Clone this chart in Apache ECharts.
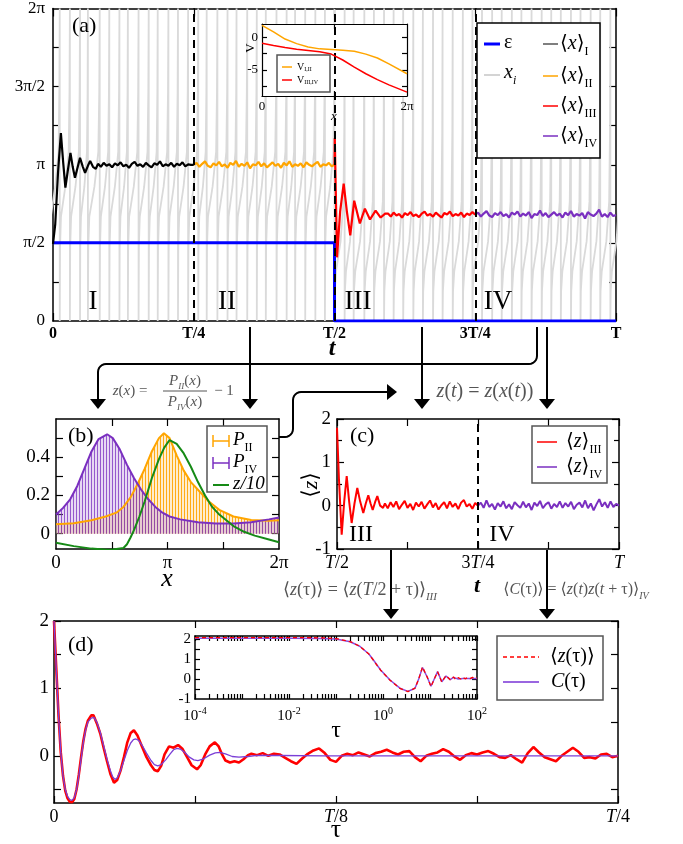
<!DOCTYPE html>
<html>
<head>
<meta charset="utf-8">
<title>panels a-d</title>
<style>html,body{margin:0;padding:0;background:#fff;} #main{width:683px;height:844px;}</style>
</head>
<body>
<div id="main"></div>
<script src="https://cdn.jsdelivr.net/npm/echarts@6/dist/echarts.min.js"></script>
<script>
var PI = Math.PI;

// ---- panel (a): trajectories, time in units of T ----
var wrapTimes = [-0.006, 0.012, 0.030, 0.048, 0.062, 0.083, 0.100, 0.118, 0.133, 0.152, 0.170, 0.186, 0.205, 0.222, 0.240,
  0.258, 0.273, 0.292, 0.310, 0.326, 0.345, 0.362, 0.378, 0.397, 0.415, 0.430, 0.448, 0.466, 0.483, 0.500,
  0.518, 0.534, 0.553, 0.570, 0.588, 0.605, 0.622, 0.640, 0.657, 0.675, 0.692, 0.710, 0.728, 0.745,
  0.762, 0.780, 0.797, 0.815, 0.832, 0.850, 0.868, 0.885, 0.902, 0.920, 0.937, 0.955, 0.972, 0.990, 1.008];
// one revolution of x_i: [fraction of the period, x]
var cycleEarly = [[0, 0], [0.03, 1.5], [0.12, 2.1], [0.55, 2.7], [0.88, 3.4], [0.96, 4.6], [1, 6.283]];
var cycleLate = [[0, 0], [0.03, 0.6], [0.15, 1.0], [0.6, 1.6], [0.88, 2.4], [0.96, 3.8], [1, 6.283]];

var epsPts = [[0, 1.5708], [0.5, 1.5708], [0.5, 0], [1, 0]];
var xI_head = [[0, 1.55], [0.004, 1.95], [0.009, 3.0], [0.014, 3.78], [0.018, 3.2], [0.022, 2.68], [0.026, 3.0], [0.031, 3.38],
  [0.035, 3.1], [0.039, 2.88], [0.044, 3.1], [0.048, 3.28], [0.053, 3.1], [0.057, 2.98], [0.062, 3.12], [0.066, 3.22], [0.071, 3.1], [0.076, 3.06]];
var xI_tail = [3.16, 3.10, 3.18, 3.12, 3.15, 3.09, 3.17, 3.13, 3.19, 3.11, 3.14, 3.08, 3.16, 3.20, 3.12, 3.15, 3.10, 3.18, 3.13, 3.09,
  3.17, 3.14, 3.21, 3.11, 3.15, 3.12, 3.18, 3.10, 3.16, 3.13, 3.19, 3.11, 3.15, 3.14, 3.14];
var xII_vals = [3.14, 3.18, 3.10, 3.16, 3.21, 3.12, 3.09, 3.17, 3.13, 3.20, 3.11, 3.15, 3.08, 3.18, 3.14, 3.22, 3.10, 3.16, 3.12, 3.19,
  3.07, 3.15, 3.13, 3.20, 3.11, 3.17, 3.09, 3.14, 3.19, 3.12, 3.16, 3.08, 3.18, 3.13, 3.21, 3.10, 3.15, 3.12, 3.17, 3.09,
  3.19, 3.14, 3.11, 3.16, 3.20, 3.10, 3.15, 3.13, 3.18, 3.11, 3.14];
var xIII_head = [[0.5, 3.14], [0.5005, 3.68], [0.5045, 1.28], [0.51, 2.2], [0.5163, 2.76], [0.522, 2.2], [0.528, 1.72], [0.535, 2.42],
  [0.545, 1.96], [0.554, 2.26], [0.563, 2.04], [0.573, 2.22], [0.582, 2.08], [0.59, 2.16]];
var xIII_tail = [2.16, 2.10, 2.18, 2.12, 2.15, 2.08, 2.17, 2.13, 2.19, 2.11, 2.14, 2.09, 2.16, 2.20, 2.12, 2.15, 2.10, 2.18, 2.13, 2.08,
  2.17, 2.14, 2.20, 2.11, 2.15, 2.12, 2.18, 2.09, 2.16, 2.13, 2.19, 2.14];
var xIV_vals = [2.14, 2.18, 2.10, 2.16, 2.21, 2.12, 2.09, 2.17, 2.13, 2.19, 2.11, 2.15, 2.08, 2.18, 2.14, 2.20, 2.10, 2.16, 2.12, 2.19,
  2.07, 2.15, 2.13, 2.22, 2.11, 2.17, 2.09, 2.14, 2.19, 2.12, 2.16, 2.08, 2.18, 2.13, 2.21, 2.10, 2.15, 2.12, 2.17, 2.06,
  2.19, 2.14, 2.11, 2.16, 2.24, 2.10, 2.15, 2.09, 2.18, 2.11, 2.13];
var regionBounds = [0.25, 0.5, 0.75];

// inset of (a): potentials
var vX = [0, 0.5, 1, 1.5, 2, 2.5, 3, 3.5, 4, 4.5, 5, 5.5, 6.283];
var vI_II = [1.8, 0.8, -0.3, -1.0, -1.5, -1.8, -1.9, -2.0, -2.15, -2.6, -3.2, -4.1, -5.6];
var vIII_IV = [-0.95, -1.3, -1.6, -1.85, -2.05, -2.25, -2.6, -3.5, -4.6, -5.6, -6.5, -7.3, -8.4];

// ---- panel (b): distributions ----
var bX_II = [0, 0.5, 1.0, 1.4, 1.7, 1.9, 2.1, 2.3, 2.5, 2.7, 2.9, 3.04, 3.2, 3.4, 3.6, 3.8, 4.0, 4.3, 4.6, 5.0, 5.5, 6.0, 6.283];
var pII = [0.05, 0.055, 0.07, 0.09, 0.11, 0.14, 0.19, 0.26, 0.34, 0.43, 0.5, 0.525, 0.5, 0.41, 0.33, 0.27, 0.23, 0.17, 0.125, 0.09, 0.072, 0.068, 0.07];
var bX_IV = [0, 0.2, 0.4, 0.6, 0.8, 1.0, 1.2, 1.44, 1.6, 1.8, 2.0, 2.2, 2.4, 2.6, 2.8, 3.0, 3.2, 3.5, 4.0, 4.5, 5.0, 5.5, 6.0, 6.283];
var pIV = [0.10, 0.135, 0.18, 0.25, 0.34, 0.43, 0.495, 0.52, 0.5, 0.44, 0.36, 0.29, 0.23, 0.18, 0.14, 0.11, 0.09, 0.075, 0.06, 0.054, 0.053, 0.06, 0.075, 0.085];
var bX_z = [0, 0.5, 1.0, 1.5, 1.9, 2.0, 2.1, 2.2, 2.35, 2.5, 2.7, 2.9, 3.05, 3.2, 3.4, 3.6, 3.8, 4.0, 4.2, 4.4, 4.6, 4.8, 5.0, 5.3, 5.6, 6.0, 6.283];
var zOver10 = [-0.047, -0.065, -0.078, -0.085, -0.075, -0.055, -0.02, 0.02, 0.09, 0.17, 0.29, 0.39, 0.45, 0.49, 0.47, 0.42, 0.35, 0.27, 0.2, 0.14, 0.1, 0.07, 0.04, 0.01, -0.01, -0.03, -0.045];

// ---- panel (c): z(t) ----
var zIII_head = [[0.5, 1.8], [0.5035, 0.6], [0.5083, -0.67], [0.5128, 0.1], [0.5172, 0.68], [0.5215, 0.1], [0.526, -0.4], [0.531, 0.05],
  [0.536, 0.41], [0.541, 0.1], [0.5466, -0.17], [0.551, 0.05], [0.5555, 0.24], [0.5595, 0.05], [0.5633, -0.1], [0.5675, 0.08],
  [0.5715, 0.22], [0.5765, 0.0], [0.5816, -0.05]];
var zIII_tail = [0.05, -0.06, 0.08, -0.03, 0.10, -0.08, 0.02, 0.11, -0.05, 0.04, -0.10, 0.07, -0.02, 0.09, -0.07, 0.03, 0.12, -0.04, 0.06, -0.09,
  0.01, 0.08, -0.06, 0.10, -0.03, 0.05, -0.08, 0.07, 0.13, -0.02, 0.04, -0.07, 0.06, 0.0];
var zIV_vals = [0.0, 0.07, -0.05, 0.12, -0.03, 0.04, -0.09, 0.06, -0.02, 0.10, -0.06, 0.03, -0.08, 0.08, 0.01, -0.05, 0.09, -0.04, 0.05, -0.10,
  0.07, -0.01, 0.11, -0.06, 0.03, 0.08, -0.07, 0.04, -0.03, 0.10, -0.05, 0.06, -0.02, 0.09, -0.08, 0.02, 0.07, -0.04, 0.12, -0.06,
  0.05, -0.11, 0.03, 0.15, -0.02, 0.08, -0.05, 0.10, -0.03, 0.04, 0.0];

// ---- panel (d): <z(tau)> and C(tau), tau in units of T ----
var zTau_head = [[0, 2], [0.001, 1.3], [0.002, 0.6], [0.003, 0.05], [0.004, -0.3], [0.005, -0.52], [0.006, -0.63], [0.007, -0.68], [0.008, -0.69],
  [0.009, -0.64], [0.010, -0.5], [0.011, -0.28], [0.012, -0.02], [0.013, 0.22], [0.014, 0.4], [0.015, 0.52], [0.0165, 0.6], [0.0175, 0.6],
  [0.019, 0.48], [0.0205, 0.33], [0.022, 0.12], [0.0235, -0.08], [0.025, -0.27], [0.0266, -0.4], [0.028, -0.36], [0.0295, -0.22], [0.031, -0.02],
  [0.0325, 0.2], [0.034, 0.34], [0.0354, 0.38], [0.037, 0.3], [0.039, 0.14], [0.041, -0.02], [0.043, -0.14], [0.0445, -0.21], [0.046, -0.23],
  [0.0475, -0.15], [0.049, 0.02], [0.051, 0.14], [0.053, 0.12], [0.055, 0.16], [0.057, 0.1], [0.059, -0.02], [0.061, -0.14], [0.0634, -0.2],
  [0.065, -0.14], [0.067, 0.02], [0.069, 0.14], [0.0713, 0.2], [0.073, 0.14], [0.0745, 0.02], [0.076, -0.07], [0.078, -0.1], [0.08, -0.08],
  [0.082, -0.1], [0.084, -0.05], [0.086, 0.01]];
var zTau_tail = [0.03, 0.01, 0.04, 0.0, 0.03, 0.02, -0.03, -0.08, -0.12, -0.04, 0.03, 0.08, 0.11, 0.04, -0.06, -0.09, 0.0, 0.03, 0.01, 0.05,
  0.02, -0.01, 0.04, 0.06, 0.09, 0.05, 0.02, 0.06, 0.07, -0.02, -0.08, 0.0, 0.03, 0.05, 0.1, 0.06, -0.01, -0.06, 0.01, 0.04,
  0.02, 0.05, 0.07, 0.03, -0.02, -0.03, 0.01, -0.05, -0.1, 0.04, 0.13, 0.05, -0.02, -0.05, -0.08, 0.0, 0.06, 0.12, 0.06, -0.03,
  -0.02, -0.04, 0.02, 0.03, -0.02, 0.0];
var cTau = [[0, 2], [0.001, 1.3], [0.002, 0.6], [0.003, 0.05], [0.004, -0.3], [0.005, -0.5], [0.006, -0.6], [0.007, -0.65], [0.008, -0.66],
  [0.009, -0.62], [0.010, -0.5], [0.011, -0.3], [0.012, -0.05], [0.013, 0.2], [0.014, 0.38], [0.015, 0.5], [0.0165, 0.56], [0.0177, 0.57],
  [0.019, 0.5], [0.0205, 0.35], [0.022, 0.15], [0.0235, -0.05], [0.025, -0.22], [0.026, -0.31], [0.027, -0.35], [0.028, -0.33], [0.0295, -0.22],
  [0.031, -0.07], [0.0325, 0.08], [0.034, 0.19], [0.0352, 0.24], [0.0363, 0.25], [0.0375, 0.23], [0.039, 0.16], [0.041, 0.04], [0.043, -0.07],
  [0.0445, -0.13], [0.046, -0.15], [0.0475, -0.13], [0.0495, -0.06], [0.0515, 0.03], [0.053, 0.09], [0.0545, 0.11], [0.056, 0.1], [0.058, 0.05],
  [0.06, -0.02], [0.062, -0.06], [0.0638, -0.07], [0.066, -0.05], [0.069, 0.01], [0.0715, 0.045], [0.0735, 0.05], [0.076, 0.03], [0.079, -0.01],
  [0.082, -0.02], [0.086, -0.01], [0.09, 0.005], [0.1, 0.005], [0.12, 0.0], [0.15, 0.0], [0.2, 0.0], [0.25, 0.0]];

// inset of (d): log time axis
var tauC = [1e-4, 1e-3, 1e-2, 0.05, 0.1, 0.2, 0.32, 0.5, 0.62, 0.89, 1.41, 2.29, 3.39, 4.79, 5.75, 6.92, 8.71, 10.5, 12.6, 14.5,
  17.8, 21.9, 26.9, 31.6, 39.8, 50, 63, 80, 100];
var insetC = [2.04, 2.04, 2.04, 2.03, 2.0, 1.86, 1.64, 1.25, 0.96, 0.45, -0.05, -0.46, -0.62, -0.46, 0.0, 0.57, 0.1, -0.36, 0.05, 0.37,
  -0.14, 0.15, -0.03, 0.08, 0.0, 0.03, 0.02, 0.03, 0.03];
var tauZ = [1e-4, 1e-3, 1e-2, 0.05, 0.1, 0.2, 0.32, 0.5, 0.62, 0.89, 1.41, 2.29, 3.39, 4.79, 5.75, 6.92, 8.71, 10.5, 12.6, 14.5,
  17.8, 21.9, 26.9, 29, 31.6, 35, 39.8, 45, 50, 56, 63, 71, 80, 90, 100];
var insetZ = [2.07, 2.07, 2.07, 2.06, 2.02, 1.87, 1.64, 1.25, 0.95, 0.44, -0.06, -0.47, -0.63, -0.46, 0.0, 0.6, 0.1, -0.38, 0.05, 0.36,
  -0.15, 0.17, -0.04, 0.06, 0.1, -0.02, 0.07, 0.0, 0.08, 0.01, 0.07, 0.02, 0.08, 0.03, 0.05];

var noiseStep = 0.005;

// ---------------------------------------------------------------
var SERIF = '"Liberation Serif", "DejaVu Serif", serif';

function merge(a, b) {
  var out = {};
  [a, b].forEach(function (src) {
    if (!src) return;
    Object.keys(src).forEach(function (k) {
      var v = src[k];
      if (v && typeof v === 'object' && !Array.isArray(v) && out[k] && typeof out[k] === 'object' && !Array.isArray(out[k])) {
        out[k] = merge(out[k], v);
      } else {
        out[k] = v;
      }
    });
  });
  return out;
}
function seq(t0, dt, vals) { return vals.map(function (v, i) { return [t0 + i * dt, v]; }); }
function pairs(xs, ys) { return xs.map(function (x, i) { return [x, ys[i]]; }); }

var grayPts = [];
for (var k = 0; k + 1 < wrapTimes.length; k++) {
  var a0 = wrapTimes[k], a1 = wrapTimes[k + 1];
  var shape = a0 < 0.5 ? cycleEarly : cycleLate;
  shape.forEach(function (p) { grayPts.push([a0 + p[0] * (a1 - a0), p[1]]); });
}

function axisBase(grid, pos, z) {
  return {
    type: 'value', gridIndex: grid, position: pos, z: z || 0,
    axisLine: {show: true, onZero: false, lineStyle: {color: '#000', width: 1.5}},
    axisTick: {show: true, inside: true, length: 7, lineStyle: {color: '#000', width: 1.2}},
    minorTick: {lineStyle: {color: '#000', width: 1.2}},
    splitLine: {show: false},
    axisLabel: {show: true, color: '#000', fontFamily: SERIF, fontSize: 19, margin: 6}
  };
}
function pairX(grid, opts, z) {
  var m = merge(axisBase(grid, 'bottom', z), opts);
  return [m, merge(m, {position: 'top', axisLabel: {show: false}})];
}
function pairY(grid, opts, z) {
  var m = merge(axisBase(grid, 'left', z), opts);
  return [m, merge(m, {position: 'right', axisLabel: {show: false}})];
}

var italicRich = {i: {fontStyle: 'italic', fontFamily: SERIF, fontSize: 18, color: '#000'}};
var piMajor = [0, PI / 2, PI, 3 * PI / 2, 2 * PI];
function piHalf(v) { return ['0', 'π/2', 'π', '3π/2', '2π'][Math.round(v / (PI / 2))]; }
function piWhole(v) { return ['0', 'π', '2π'][Math.round(v / PI)]; }
var logTicks = [];
for (var e = -4; e < 2; e++) for (var m = 1; m < 10; m++) logTicks.push(m * Math.pow(10, e));
logTicks.push(100);

var xAxes = [].concat(
  pairX(0, {min: 0, max: 1, interval: 0.25, axisTick: {length: 8},
    axisLabel: {fontSize: 16, fontWeight: 'bold', margin: 5,
      formatter: function (v) { return {0: '0', 0.25: 'T/4', 0.5: 'T/2', 0.75: '3T/4', 1: 'T'}[v] || ''; }}}),
  pairX(1, {min: 0, max: 2 * PI, axisLine: {lineStyle: {width: 1.2}},
    axisTick: {customValues: [PI], length: 5},
    axisLabel: {customValues: [0, 2 * PI], formatter: piWhole, fontSize: 13, margin: 4}}, 6),
  pairX(2, {min: 0, max: 2 * PI, axisTick: {customValues: [PI / 2, PI, 3 * PI / 2]},
    axisLabel: {customValues: [0, PI, 2 * PI], formatter: piWhole, margin: 5}}),
  pairX(3, {min: 0.5, max: 1, interval: 0.25, minorTick: {show: true, splitNumber: 2, length: 7},
    axisLabel: {fontSize: 18, margin: 5, rich: italicRich,
      formatter: function (v) { return {0.5: '{i|T}/2', 0.75: '3{i|T}/4', 1: '{i|T}'}[v] || ''; }}}),
  pairX(4, {min: 0, max: 0.25, interval: 0.125, minorTick: {show: true, splitNumber: 2, length: 7},
    axisLabel: {fontSize: 18, margin: 5, rich: italicRich,
      formatter: function (v) { return {0: '0', 0.125: '{i|T}/8', 0.25: '{i|T}/4'}[v] || ''; }}}),
  pairX(5, {type: 'log', logBase: 10, min: 1e-4, max: 100, axisLine: {lineStyle: {width: 1.5}},
    axisTick: {customValues: logTicks, length: 5},
    axisLabel: {customValues: [1e-4, 1e-2, 1, 100], fontSize: 15, margin: 7,
      rich: {sup: {fontSize: 10, fontFamily: SERIF, verticalAlign: 'top', lineHeight: 10, color: '#000'},
             b: {fontSize: 15, fontFamily: SERIF, lineHeight: 20, color: '#000'}},
      formatter: function (v) { return '{b|10}{sup|' + Math.round(Math.log10(v)) + '}'; }}}, 6)
);
var yAxes = [].concat(
  pairY(0, {min: 0, max: 2 * PI,
    axisTick: {customValues: [PI / 4, PI / 2, 3 * PI / 4, PI, 5 * PI / 4, 3 * PI / 2, 7 * PI / 4]},
    axisLabel: {customValues: piMajor, formatter: piHalf, fontSize: 17, margin: 8}}),
  pairY(1, {min: -9, max: 2, axisLine: {lineStyle: {width: 1.2}},
    axisTick: {customValues: [-7.5, -5, -2.5, 0], length: 5},
    axisLabel: {customValues: [-5, 0], fontSize: 13, margin: 4}}, 6),
  pairY(2, {min: -0.08, max: 0.6, axisTick: {customValues: [0, 0.1, 0.2, 0.3, 0.4, 0.5]},
    axisLabel: {customValues: [0, 0.2, 0.4]}}),
  pairY(3, {min: -1, max: 2, interval: 1, minorTick: {show: true, splitNumber: 2, length: 5}}),
  pairY(4, {min: -0.7, max: 2, axisTick: {customValues: [-0.5, 0, 0.5, 1, 1.5, 2]},
    axisLabel: {customValues: [0, 1, 2], margin: 5}}),
  pairY(5, {min: -1, max: 2.15, axisLine: {lineStyle: {width: 1.5}},
    axisTick: {customValues: [-0.5, 0, 0.5, 1, 1.5, 2], length: 5},
    axisLabel: {customValues: [-1, 0, 1, 2], fontSize: 15, margin: 4}}, 6)
);

function line(grid, data, color, width, extra) {
  return merge({
    type: 'line', xAxisIndex: 2 * grid, yAxisIndex: 2 * grid, data: data,
    showSymbol: false, symbol: 'none', silent: true, animation: false, z: 3,
    lineStyle: {color: color, width: width}, itemStyle: {color: color}
  }, extra);
}
function stripe(lineColor, fillColor) {
  var c = document.createElement('canvas');
  c.width = 3; c.height = 6;
  var g = c.getContext('2d');
  g.fillStyle = fillColor; g.fillRect(0, 0, 3, 6);
  g.fillStyle = lineColor; g.fillRect(1, 0, 1, 6);
  return c;
}
function dashed(vals) {
  return {silent: true, symbol: ['none', 'none'], label: {show: false},
    lineStyle: {color: '#000', type: [8, 5], width: 2},
    data: vals.map(function (v) { return {xAxis: v}; })};
}

var ORANGE = '#ffa500', RED = '#ff0000', PURPLE = '#7a2fc0', GREEN = '#168a16', BLUE = '#0000ff';

var sII = line(2, pairs(bX_II, pII), ORANGE, 2);
sII.areaStyle = {color: {image: stripe('rgba(255,165,0,0.9)', 'rgba(255,210,130,0.4)'), repeat: 'repeat'}, opacity: 1};
var sIV = line(2, pairs(bX_IV, pIV), PURPLE, 2);
sIV.areaStyle = {color: {image: stripe('rgba(122,47,192,0.75)', 'rgba(175,130,215,0.3)'), repeat: 'repeat'}, opacity: 1};

var series = [
  line(0, grayPts, '#dadada', 1.8, {z: 1}),
  line(0, epsPts, BLUE, 3),
  line(0, xI_head.concat(seq(0.08, noiseStep, xI_tail)), '#000', 2.2),
  line(0, seq(0.25, noiseStep, xII_vals), ORANGE, 2.2),
  line(0, xIII_head.concat(seq(0.595, noiseStep, xIII_tail)), RED, 2.2),
  line(0, seq(0.75, noiseStep, xIV_vals), PURPLE, 2.2, {markLine: dashed(regionBounds)}),
  line(1, pairs(vX, vI_II), ORANGE, 1.5, {z: 7}),
  line(1, pairs(vX, vIII_IV), RED, 1.5, {z: 7}),
  sII, sIV,
  line(2, pairs(bX_z, zOver10), GREEN, 2),
  line(3, zIII_head.concat(seq(0.585, noiseStep, zIII_tail)), RED, 2),
  line(3, seq(0.75, noiseStep, zIV_vals), PURPLE, 2, {markLine: dashed([0.75])}),
  line(4, zTau_head.concat(seq(0.0875, 0.0025, zTau_tail)), RED, 2.6),
  line(4, cTau, '#7b3fd6', 1.3),
  line(5, pairs(tauC, insetC), '#8a4ee0', 1.5, {z: 7}),
  line(5, pairs(tauZ, insetZ), RED, 1.3, {z: 8, lineStyle: {type: [4, 3]}})
];

// ---- annotations ----
function rich(size, color) {
  var lh = Math.round(size * 1.4), sl = Math.round(size * 0.7), ss = Math.round(size * 0.62);
  return {
    n: {fontSize: size, fontFamily: SERIF, fill: color, lineHeight: lh},
    i: {fontSize: size, fontFamily: SERIF, fill: color, lineHeight: lh, fontStyle: 'italic'},
    s: {fontSize: ss, fontFamily: SERIF, fill: color, lineHeight: sl, verticalAlign: 'bottom'},
    si: {fontSize: ss, fontFamily: SERIF, fill: color, lineHeight: sl, verticalAlign: 'bottom', fontStyle: 'italic'}
  };
}
function txt(x, y, text, size, opt) {
  opt = opt || {};
  var color = opt.color || '#000';
  return {
    type: 'text', x: x, y: y, z: opt.z || 12, rotation: opt.rotation || 0,
    style: {
      text: text, rich: rich(size, color), fill: color, fontFamily: SERIF, fontSize: size,
      fontStyle: opt.italic ? 'italic' : 'normal', fontWeight: opt.bold ? 'bold' : 'normal',
      align: opt.align || 'center', verticalAlign: 'middle'
    }
  };
}
function seg(x1, y1, x2, y2, color, w, z, dash) {
  return {type: 'line', z: z || 12, shape: {x1: x1, y1: y1, x2: x2, y2: y2},
    style: {stroke: color, lineWidth: w, lineDash: dash || null}};
}
function box(x, y, w, h, stroke, z) {
  return {type: 'rect', z: z || 8, shape: {x: x, y: y, width: w, height: h},
    style: {fill: '#fff', stroke: stroke, lineWidth: 1.5}};
}
// quarter-circle corner points for the connector arrows
function arc(cx, cy, r, a0, a1) {
  var pts = [];
  for (var j = 0; j <= 6; j++) {
    var a = a0 + (a1 - a0) * j / 6;
    pts.push([cx + r * Math.cos(a), cy + r * Math.sin(a)]);
  }
  return pts;
}
function poly(points) {
  return {type: 'polyline', z: 12, shape: {points: points}, style: {fill: null, stroke: '#000', lineWidth: 2}};
}
function headDown(x, y) {
  return {type: 'polygon', z: 12, shape: {points: [[x - 8, y - 10], [x + 8, y - 10], [x, y]]}, style: {fill: '#000'}};
}
function errIcon(x1, x2, y, color) {
  return [seg(x1, y, x2, y, color, 1.5, 10), seg(x1, y - 6, x1, y + 6, color, 1.5, 10), seg(x2, y - 6, x2, y + 6, color, 1.5, 10)];
}

var GRAY_T = '#555';
var elements = [
  // panel (a)
  txt(72, 26, '(a)', 22, {align: 'left'}),
  txt(93, 302, 'I', 27), txt(227, 302, 'II', 27), txt(358, 302, 'III', 27), txt(498, 302, 'IV', 27),
  txt(332, 349, 't', 24, {italic: true, bold: true}),
  txt(251, 48, 'V', 13, {rotation: PI / 2}),
  txt(334, 117, 'x', 13, {italic: true}),
  box(277, 55, 53, 37, '#555', 8),
  seg(282, 67, 292, 67, ORANGE, 1.5, 9), txt(297, 67, 'V{s|I,II}', 10, {align: 'left', z: 9}),
  seg(282, 80, 292, 80, RED, 1.5, 9), txt(297, 80, 'V{s|III,IV}', 10, {align: 'left', z: 9}),
  box(477, 23, 123, 135, '#000', 8),
  seg(484, 44, 500, 44, BLUE, 3, 9), txt(504, 43, 'ε', 20, {align: 'left', z: 9}),
  seg(484, 75, 500, 75, '#d4d4d4', 2, 9), txt(504, 73, '{i|x}{si|i}', 20, {align: 'left', z: 9}),
  seg(543, 44, 558, 44, '#555', 1.5, 9), txt(560, 44, '⟨{i|x}⟩{s|I}', 20, {align: 'left', z: 9}),
  seg(543, 76, 558, 76, ORANGE, 1.5, 9), txt(560, 76, '⟨{i|x}⟩{s|II}', 20, {align: 'left', z: 9}),
  seg(543, 106, 558, 106, RED, 1.5, 9), txt(560, 106, '⟨{i|x}⟩{s|III}', 20, {align: 'left', z: 9}),
  seg(543, 136, 558, 136, PURPLE, 1.5, 9), txt(560, 136, '⟨{i|x}⟩{s|IV}', 20, {align: 'left', z: 9}),

  // arrows between (a) and (b)/(c)
  poly([[250, 327], [250, 400]]), headDown(250, 409),
  poly([[537, 327]].concat(arc(529, 356, 8, 0, PI / 2), arc(106, 372, 8, -PI / 2, -PI), [[98, 400]])), headDown(98, 409),
  poly([[422, 327], [422, 400]]), headDown(422, 409),
  poly([[547, 327], [547, 400]]), headDown(547, 409),
  poly([[279, 437]].concat(arc(285, 429, 8, PI / 2, 0), arc(301, 400, 8, PI, 1.5 * PI), [[388, 392]])),
  {type: 'polygon', z: 12, shape: {points: [[387, 384], [387, 400], [397, 392]]}, style: {fill: '#000'}},
  txt(130, 391, '{i|z}({i|x}) =', 15, {color: GRAY_T}),
  txt(185, 381, '{i|P}{si|II}({i|x})', 15, {color: GRAY_T}),
  seg(163, 391, 207, 391, GRAY_T, 1, 12),
  txt(185, 402, '{i|P}{si|IV}({i|x})', 15, {color: GRAY_T}),
  txt(224, 391, '− 1', 15, {color: GRAY_T}),
  txt(485, 392, '{i|z}({i|t}) = {i|z}({i|x}({i|t}))', 20, {color: GRAY_T}),

  // panel (b)
  txt(68, 436, '(b)', 22, {align: 'left'}),
  txt(167, 579, 'x', 26, {italic: true}),
  box(207, 426, 60, 66, '#555', 8)
].concat(errIcon(213, 229, 441, ORANGE), errIcon(213, 229, 463, PURPLE), [
  txt(233, 440, '{i|P}{s|II}', 19, {align: 'left', z: 9}),
  txt(233, 462, '{i|P}{s|IV}', 19, {align: 'left', z: 9}),
  seg(213, 485, 229, 485, GREEN, 2, 9), txt(233, 484, 'z/10', 19, {align: 'left', italic: true, z: 9}),

  // panel (c)
  txt(350, 436, '(c)', 22, {align: 'left'}),
  txt(361, 535, 'III', 24), txt(502, 535, 'IV', 24),
  txt(311, 485, '⟨{i|z}⟩', 22, {rotation: PI / 2}),
  txt(477, 586, 't', 22, {italic: true, bold: true}),
  box(532, 426, 75, 57, '#555', 8),
  seg(537, 442, 557, 442, RED, 1.5, 9), txt(566, 442, '⟨{i|z}⟩{s|III}', 20, {align: 'left', z: 9}),
  seg(537, 467, 557, 467, PURPLE, 1.5, 9), txt(566, 467, '⟨{i|z}⟩{s|IV}', 20, {align: 'left', z: 9}),

  // arrows (c) -> (d)
  poly([[391, 550], [391, 610]]), headDown(391, 619),
  poly([[547, 550], [547, 610]]), headDown(547, 619),
  txt(360, 590, '⟨{i|z}(τ)⟩ = ⟨{i|z}({i|T}/2 + τ)⟩{si|III}', 18, {color: GRAY_T}),
  txt(576, 590, '⟨{i|C}(τ)⟩ = ⟨{i|z}({i|t}){i|z}({i|t} + τ)⟩{si|IV}', 16, {color: GRAY_T}),

  // panel (d)
  txt(68, 645, '(d)', 22, {align: 'left'}),
  txt(336, 830, 'τ', 26),
  txt(336, 731, 'τ', 24),
  box(497, 636, 106, 64, '#555', 8),
  seg(503, 657, 539, 657, RED, 1.3, 9, [4, 3]), txt(550, 657, '⟨{i|z}(τ)⟩', 20, {align: 'left', z: 9}),
  seg(503, 682, 539, 682, '#9a66e0', 2, 9), txt(551, 682, '{i|C}(τ)', 20, {align: 'left', z: 9})
]);

var chart = echarts.init(document.getElementById('main'), null, {renderer: 'canvas'});
chart.setOption({
  animation: false,
  backgroundColor: '#fff',
  grid: [
    {left: 53, top: 7, width: 563, height: 314},
    {left: 262, top: 24, width: 145, height: 72, show: true, backgroundColor: '#fff', borderWidth: 0, z: 5},
    {left: 56, top: 419, width: 223, height: 130},
    {left: 337, top: 419, width: 282, height: 130},
    {left: 54, top: 621, width: 564, height: 182},
    {left: 195, top: 636, width: 282, height: 63, show: true, backgroundColor: '#fff', borderWidth: 0, z: 5}
  ],
  xAxis: xAxes,
  yAxis: yAxes,
  series: series,
  graphic: {elements: elements}
});
</script>
</body>
</html>
